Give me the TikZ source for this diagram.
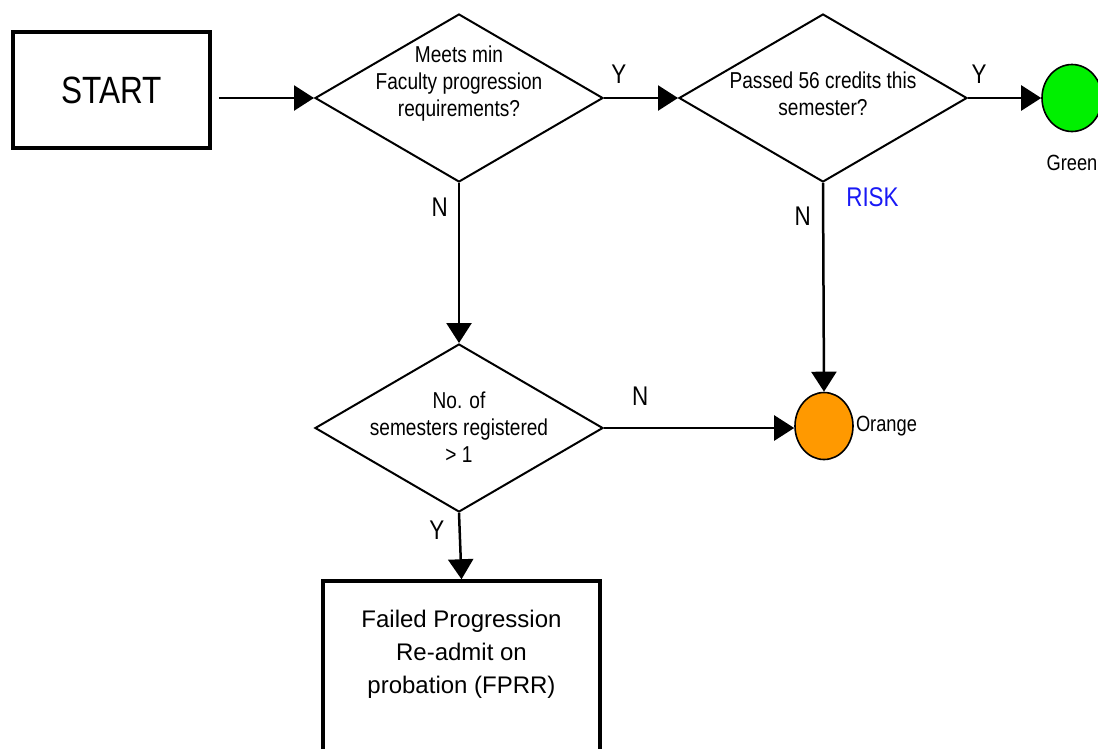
\documentclass[tikz,border=0pt]{standalone}
\usepackage{fontspec}
\setmainfont{Liberation Sans}
\newfontfamily\narrowsf{Liberation Sans}[FakeStretch=0.83]
\usetikzlibrary{shapes.geometric,arrows.meta}
\definecolor{riskblue}{RGB}{25,25,245}
\definecolor{okgreen}{RGB}{0,240,0}
\definecolor{warnorange}{RGB}{255,153,0}

\begin{document}
\begin{tikzpicture}[x=1pt, y=-1pt,
    box/.style={rectangle, draw, line width=3.5pt, minimum width=197, minimum height=116},
    decision/.style={diamond, draw, line width=2pt, minimum width=288, minimum height=168, inner sep=0pt},
    dtext/.style={font=\narrowsf\fontsize{23}{27}\selectfont, align=center, inner sep=0pt},
    ftext/.style={font=\fontsize{24}{33}\selectfont, align=center, inner sep=0pt},
    signal/.style={ellipse, draw, line width=1.6pt, minimum width=58, minimum height=67, inner sep=0pt},
    lbl/.style={font=\narrowsf\fontsize{27}{30}\selectfont, inner sep=3pt},
    tag/.style={font=\narrowsf\fontsize{22}{26}\selectfont, inner sep=2pt},
    arrow/.style={-{Triangle[length=20pt,width=25pt]}, line width=2.5pt}
]
    \useasboundingbox (0,0) rectangle (1098,748);
    \clip (0,0) rectangle (1098,748);

    % Nodes
    \node[box, font=\narrowsf\fontsize{38}{40}\selectfont] (start) at (111.5,90) {START};
    \node[decision, label={[dtext, yshift=14]center:{Meets min\\Faculty progression\\requirements?}}] (meets) at (459,98) {};
    \node[decision, label={[dtext, yshift=4]center:{Passed 56 credits this\\semester?}}] (credits) at (823,98) {};
    \node[decision, label={[dtext, yshift=1]center:{No. of\\semesters registered\\> 1}}] (regs) at (459,428) {};
    \node[signal, fill=okgreen, minimum width=60, label={[tag, yshift=-21]below:Green}] (green) at (1072,98) {};
    \node[signal, fill=warnorange, label={[tag]east:Orange}] (orange) at (824,426) {};
    \node[box, minimum width=277, minimum height=180, label={[ftext, yshift=17]center:{Failed Progression\\Re-admit on\\probation (FPRR)}}] (fprr) at (461.5,671) {};

    % Arrows
    \draw[arrow, shorten <=7pt] (start.east |- meets.west) -- (meets.west);
    \draw[arrow] (meets.east) -- node[lbl, above=10pt, pos=0.2] {Y} (credits.west);
    \draw[arrow] (credits.east) -- node[lbl, above=10pt, pos=0.15] {Y} (green.west);
    \draw[arrow] (meets.south) -- node[lbl, left=7pt, pos=0.15] {N} (regs.north);
    \draw[arrow] (credits.south) -- node[lbl, left=8pt, pos=0.16] {N}
        node[lbl, right=19pt, pos=0.07, text=riskblue] {RISK} (orange.north);
    \draw[arrow] (regs.east) -- node[lbl, above=18pt, pos=0.19] {N} (orange.west |- regs.east);
    \draw[arrow] (regs.south) -- node[lbl, left=11pt, pos=0.26] {Y} (fprr.north);
\end{tikzpicture}
\end{document}
